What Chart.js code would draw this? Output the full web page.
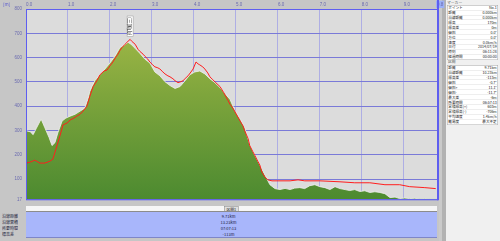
<!DOCTYPE html>
<html>
<head>
<meta charset="utf-8">
<script src="https://cdn.jsdelivr.net/npm/chart.js@4/dist/chart.umd.min.js"></script>
<style>
  html, body { margin: 0; padding: 0; }
  body { width: 500px; height: 241px; position: relative; overflow: hidden; background: #c6c6c6;
         font-family: "Noto Sans CJK JP", "DejaVu Sans", sans-serif; }
  #chart { position: absolute; left: 0; top: 0; z-index: 5; }
  /* tiny text is drawn at double size and scaled down */
  .s { position: absolute; transform: scale(0.5); transform-origin: 0 0; }
  .unit { left: 3px; top: 1px; font-size: 9px; color: #5a5ad0; z-index: 6; white-space: nowrap; }
  .strip { position: absolute; left: 26px; top: 205px; width: 411px; height: 6px; background: #f6f6f6; }
  .strip .s { left: 198px; top: 0.5px; height: 10px; padding: 0 4px; background: #dedede;
              border: 1px solid #888; font-size: 7.6px; line-height: 10px; color: #222; white-space: nowrap; }
  .band { position: absolute; left: 26px; top: 211px; width: 411px; height: 25px; background: #a8b6fb;
          border-top: 1px solid #8c8c8c; border-bottom: 1px solid #7e86c8; }
  .rows div { height: 12px; line-height: 12px; font-size: 8px; color: #1a1a3a; white-space: nowrap; }
  .band .s { left: 0; top: 0.5px; width: 822px; }
  .band .s div { text-align: center; margin-left: -12px; }
  .rowlab { left: 2px; top: 212.5px; width: 46px; }
  .sep1 { position: absolute; left: 439px; top: 0; width: 3px; height: 241px; background: #cacaca; }
  .sep2 { position: absolute; left: 442px; top: 0; width: 4px; height: 241px; background: #b2b2b2; }
  .panel { position: absolute; left: 446px; top: 0; width: 54px; height: 241px; background: #f0f0f0; }
  .panel .s { left: 0; top: 0; width: 108px; height: 482px; }
  .hdr { position: absolute; font-size: 7.6px; color: #555; line-height: 10px; white-space: nowrap; }
  .tbl { position: absolute; left: 2px; width: 100px; background: #fff; border: 1px solid #a0a0a0; }
  .tbl div { height: 8.8px; line-height: 8.8px; font-size: 7.2px; color: #222; border-bottom: 0.6px solid #dcdcdc;
             display: flex; justify-content: space-between; padding: 0 1.6px; white-space: nowrap; }
</style>
</head>
<body>
<div class="s unit">[m]</div>
<div class="strip"><div class="s">区間1</div></div>
<div class="s rows rowlab"><div>沿線距離</div><div>沿線累積</div><div>所要時間</div><div>標高差</div></div>
<div class="band"><div class="s rows"><div>9.71km</div><div>13.23km</div><div>07:07:13</div><div>-113m</div></div></div>
<div class="sep1"></div><div class="sep2"></div>
<div class="panel"><div class="s">
  <div class="hdr" style="left:2px;top:-1px">マーカー</div>
  <div class="tbl" style="top:10px" id="t1"></div>
  <div class="hdr" style="left:4px;top:117px">区間</div>
  <div class="tbl" style="top:130px" id="t2"></div>
</div></div>
<canvas id="chart" width="500" height="206"></canvas>
<script>
// terrain profile (distance km / elevation m)
const terrainKm = [0.00, 0.10, 0.17, 0.24, 0.36, 0.45, 0.55, 0.62, 0.69, 0.76, 0.86, 0.95, 1.05, 1.17, 1.29, 1.40,
  1.48, 1.52, 1.64, 1.76, 1.88, 2.00, 2.12, 2.24, 2.33, 2.43, 2.50, 2.60, 2.71, 2.83, 2.95, 3.07, 3.19, 3.31, 3.43,
  3.55, 3.67, 3.79, 3.90, 4.02, 4.14, 4.26, 4.38, 4.50, 4.62, 4.74, 4.86, 4.98, 5.10, 5.21, 5.33, 5.45, 5.57, 5.69,
  5.81, 5.93, 6.05, 6.17, 6.29, 6.40, 6.52, 6.64, 6.76, 6.88, 7.00, 7.12, 7.24, 7.36, 7.48, 7.60, 7.71, 7.83, 7.95,
  8.07, 8.19, 8.31, 8.43, 8.55, 8.67, 8.79, 8.90, 9.02, 9.14, 9.26, 9.38, 9.50, 9.62, 9.79];
const terrainElev = [299, 295, 283, 307, 347, 311, 271, 238, 250, 291, 339, 351, 359, 367, 380, 392,
  432, 461, 505, 529, 553, 578, 606, 642, 650, 663, 655, 638, 618, 594, 578, 541, 525, 501, 485,
  473, 481, 505, 529, 541, 545, 533, 513, 497, 477, 452, 428, 380, 347, 311, 242, 198, 158, 117,
  77, 61, 57, 62, 57, 63, 65, 61, 73, 77, 69, 65, 57, 69, 61, 57, 53, 57, 49,
  52, 45, 48, 45, 40, 24, 26, 20, 22, 20, 21, 19, 20, 19, 19];

// recorded track elevation
const trackKm = [0.00, 0.10, 0.21, 0.33, 0.45, 0.57, 0.64, 0.71, 0.81, 0.88, 0.98, 1.05, 1.14, 1.21, 1.29, 1.36,
  1.45, 1.52, 1.60, 1.69, 1.76, 1.86, 1.93, 2.00, 2.07, 2.14, 2.19, 2.24, 2.29, 2.36, 2.43, 2.48, 2.52, 2.60, 2.67,
  2.71, 2.79, 2.83, 2.90, 2.95, 3.02, 3.07, 3.14, 3.19, 3.26, 3.31, 3.38, 3.43, 3.50, 3.55, 3.62, 3.69, 3.74, 3.81,
  3.86, 3.93, 3.98, 4.05, 4.10, 4.14, 4.21, 4.26, 4.33, 4.38, 4.45, 4.52, 4.62, 4.71, 4.81, 4.86, 4.93, 5.02, 5.10,
  5.17, 5.21, 5.29, 5.33, 5.40, 5.45, 5.52, 5.57, 5.62, 5.69, 5.76, 5.86, 6.05, 6.29, 6.48, 6.64, 7.00, 7.48, 7.83,
  8.19, 8.55, 8.90, 9.14, 9.50, 9.76];
const trackElev = [166, 170, 178, 166, 166, 174, 182, 222, 279, 323, 331, 343, 351, 359, 367, 380,
  400, 440, 481, 505, 529, 545, 549, 566, 582, 602, 614, 630, 642, 655, 667, 675, 667, 655, 634,
  626, 614, 606, 594, 582, 570, 562, 558, 553, 541, 533, 525, 521, 513, 505, 497, 501, 505, 517,
  525, 541, 553, 582, 574, 570, 562, 553, 537, 521, 509, 497, 481, 456, 424, 408, 392, 364, 339,
  319, 299, 267, 238, 214, 198, 174, 158, 129, 109, 97, 93, 93, 93, 97, 93, 93, 89, 85,
  85, 77, 77, 69, 65, 61];

const xTickValues = [0, 1, 2, 3, 4, 5, 6, 7, 8, 9, 9.79];
const xTickLabels = ['0.0', '1.0', '2.0', '3.0', '4.0', '5.0', '6.0', '7.0', '8.0', '9.0', '9.8'];
const yTickValues = [17, 100, 200, 300, 400, 500, 600, 700, 800];

const peakKm = 2.48, peakElev = 675, peakName = '(三国山)';

const markerRows = [['ポイント', 'No.1'], ['距離', '0.000km'], ['沿線距離', '0.000km'], ['標高', '170m'], ['標高差', '0m'],
  ['傾斜', '0.0°'], ['方位', '0.0°'], ['速度', '0.0km/h'], ['日付', '2014/07/19'], ['時刻', '06:11:28'], ['経過時間', '00:00:00']];
const sectionRows = [['距離', '9.71km'], ['沿線距離', '10.23km'], ['標高差', '-113m'], ['傾斜', '-0.7°'], ['傾斜+', '11.1°'],
  ['傾斜-', '-11.7°'], ['最大差', '-6m'], ['所要時間', '06:57:13'], ['累積標高(+)', '603m'], ['累積標高(-)', '-706m'],
  ['平均速度', '1.4km/h'], ['難易度', '最大不足']];

function fillTable(id, rows) {
    document.getElementById(id).innerHTML = rows.map(r => '<div><span>' + r[0] + '</span><span>' + r[1] + '</span></div>').join('');
}
fillTable('t1', markerRows);
fillTable('t2', sectionRows);

const toPoints = (xs, ys) => xs.map((x, i) => ({ x: x, y: ys[i] }));

const plotBg = {
    id: 'plotBg',
    beforeDraw(chart) {
        const { ctx, chartArea: a } = chart;
        ctx.save();
        ctx.fillStyle = '#c6c6c6';
        ctx.fillRect(0, 0, a.right + 2, chart.height);
        ctx.fillStyle = '#dcdcdc';
        ctx.fillRect(a.left, a.top, a.right - a.left, a.bottom - a.top);
        ctx.restore();
    },
    afterDraw(chart) {
        const { ctx, chartArea: a, scales } = chart;
        ctx.save();
        ctx.strokeStyle = '#5e5ef0';
        ctx.lineWidth = 1;
        ctx.strokeRect(a.left + 0.5, a.top + 0.5, a.right - a.left, a.bottom - a.top);
        ctx.lineWidth = 2;
        ctx.beginPath(); ctx.moveTo(a.right + 1, 0); ctx.lineTo(a.right + 1, a.bottom + 1); ctx.stroke();
        // peak label, vertical text above the summit
        const px = scales.x.getPixelForValue(peakKm);
        const py = scales.y.getPixelForValue(peakElev);
        ctx.font = '5px "Noto Sans CJK JP"';
        const w = ctx.measureText(peakName).width + 2;
        ctx.translate(px, py - 3 - w);
        ctx.rotate(Math.PI / 2);
        ctx.fillStyle = '#ffffff';
        ctx.fillRect(0, -3, w, 6);
        ctx.strokeStyle = '#999';
        ctx.lineWidth = 0.5;
        ctx.strokeRect(0, -3, w, 6);
        ctx.fillStyle = '#222';
        ctx.textBaseline = 'middle';
        ctx.fillText(peakName, 1, 0);
        ctx.restore();
    }
};

new Chart(document.getElementById('chart'), {
    type: 'line',
    data: {
        datasets: [{
            data: [{ x: trackKm[0], y: trackElev[0] }],
            showLine: false,
            pointStyle: 'rect',
            pointRadius: 1.5,
            pointBackgroundColor: '#222',
            pointBorderWidth: 0,
            order: 0
        }, {
            data: toPoints(trackKm, trackElev),
            borderColor: '#ff1e1e',
            borderWidth: 1,
            pointRadius: 0,
            fill: false,
            tension: 0,
            order: 1
        }, {
            data: toPoints(terrainKm, terrainElev),
            borderWidth: 1,
            borderColor: 'rgba(240,240,240,0.8)',
            pointRadius: 0,
            tension: 0,
            fill: 'start',
            backgroundColor(c) {
                const a = c.chart.chartArea;
                if (!a) return '#7aa23a';
                const g = c.chart.ctx.createLinearGradient(0, a.top, 0, a.bottom);
                g.addColorStop(0, '#aabd4a');
                g.addColorStop(0.45, '#7ea53c');
                g.addColorStop(1, '#4c8a30');
                return g;
            },
            order: 2
        }]
    },
    options: {
        responsive: false,
        animation: false,
        devicePixelRatio: 1,
        layout: { padding: { left: 0, top: 0, right: 63, bottom: 1 } },
        plugins: { legend: { display: false }, tooltip: { enabled: false } },
        scales: {
            x: {
                type: 'linear',
                position: 'top',
                min: 0,
                max: 9.79,
                afterBuildTicks(s) { s.ticks = xTickValues.map(v => ({ value: v })); },
                afterFit(s) { s.height = 9; },
                ticks: {
                    autoSkip: false,
                    maxRotation: 0,
                    align: 'start',
                    padding: 2,
                    font: { size: 4.5, family: 'Liberation Sans' },
                    color: '#6a6ab0',
                    callback: (v, i) => xTickLabels[i],
                    showLabelBackdrop: (c) => c.index === xTickValues.length - 1,
                    backdropColor: '#9cb0f6',
                    backdropPadding: 1
                },
                grid: { color: '#aeaee4', lineWidth: 1, drawTicks: false },
                border: { display: false }
            },
            y: {
                min: 17,
                max: 800,
                afterBuildTicks(s) { s.ticks = yTickValues.map(v => ({ value: v })); },
                afterFit(s) { s.width = 26; },
                ticks: {
                    autoSkip: false,
                    padding: 4,
                    font: { size: 4.5, family: 'Liberation Sans' },
                    color: '#6a6ab0'
                },
                grid: { color: '#7a7ad8', lineWidth: 1, drawTicks: false },
                border: { display: false }
            }
        }
    },
    plugins: [plotBg]
});
</script>
</body>
</html>
